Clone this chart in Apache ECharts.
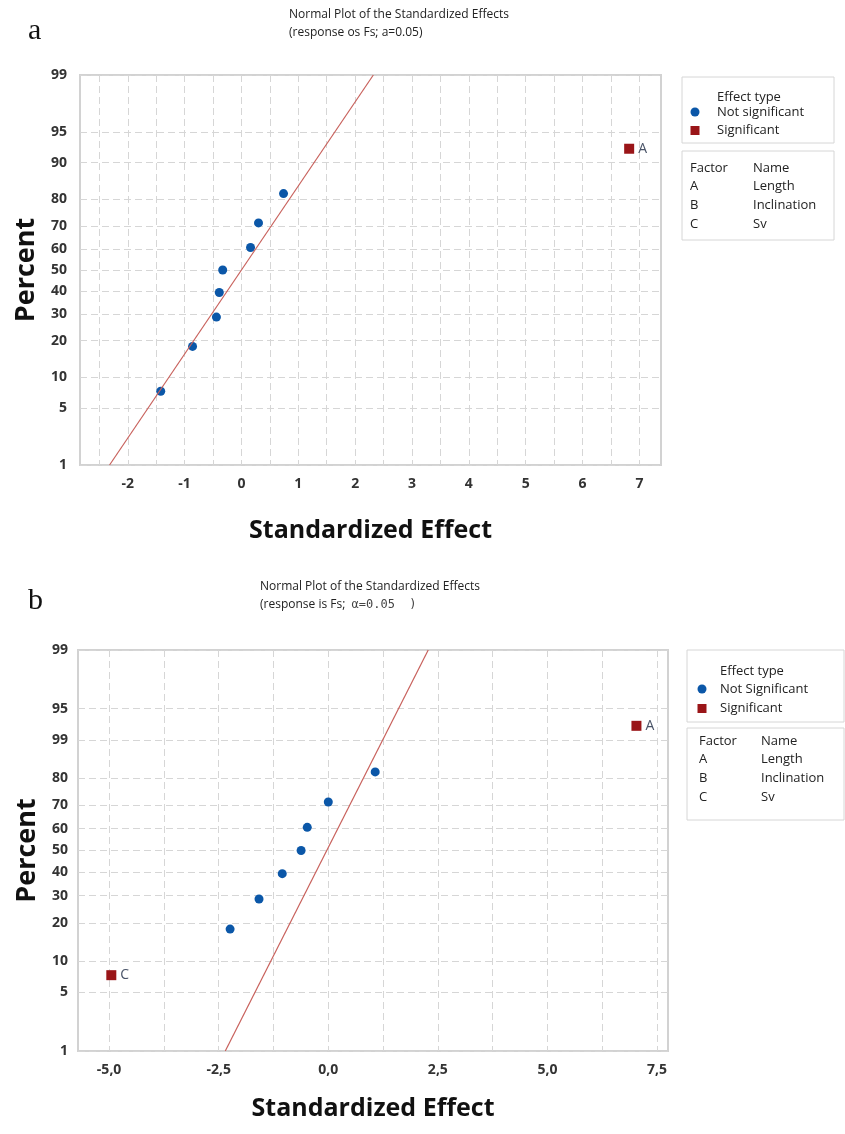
<!DOCTYPE html>
<html>
<head>
<meta charset="utf-8">
<script src="https://cdn.jsdelivr.net/npm/echarts@6/dist/echarts.min.js"></script>
<style>
html, body { margin: 0; padding: 0; background: #fff; }
#chart { width: 845px; height: 1134px; }
</style>
</head>
<body>
<div id="chart"></div>
<script>
// percent ticks of the normal probability axis
const pctTicks = [1, 5, 10, 20, 30, 40, 50, 60, 70, 80, 90, 95, 99];
const pctLabelsA = ['1', '5', '10', '20', '30', '40', '50', '60', '70', '80', '90', '95', '99'];
const pctLabelsB = ['1', '5', '10', '20', '30', '40', '50', '60', '70', '80', '99', '95', '99']; // printed like this in b

// panel a
const xLabelsA = [-2, -1, 0, 1, 2, 3, 4, 5, 6, 7];
const xGridA = [-2.5, -2, -1.5, -1, -0.5, 0, 0.5, 1, 1.5, 2, 2.5, 3, 3.5, 4, 4.5, 5, 5.5, 6, 6.5, 7];
const effectsA = [-1.42, -0.86, -0.44, -0.39, -0.33, 0.16, 0.30, 0.74];
const percentA = [7.4, 18.1, 28.7, 39.4, 50.0, 60.6, 71.3, 81.9];
const sigEffectsA = [6.82];
const sigPercentA = [92.6];
const sigNamesA = ['A'];
const lineEffectA = [-2.32, 2.32];
const linePercentA = [1, 99];

// panel b
const xLabelsB = [-5, -2.5, 0, 2.5, 5, 7.5];
const xGridB = [-5, -3.75, -2.5, -1.25, 0, 1.25, 2.5, 3.75, 5, 6.25, 7.5];
const effectsB = [-2.24, -1.58, -1.05, -0.62, -0.48, 0.0, 1.07];
const percentB = [18.1, 28.7, 39.4, 50.0, 60.6, 71.3, 81.9];
const sigEffectsB = [-4.95, 7.03];
const sigPercentB = [7.4, 92.6];
const sigNamesB = ['C', 'A'];
const lineEffectB = [-2.35, 2.28];
const linePercentB = [1, 99];

// inverse normal cdf (percent -> z), used as the y scale
function probit(pct) {
    const p = pct / 100;
    const a = [-3.969683028665376e+01, 2.209460984245205e+02, -2.759285104469687e+02, 1.383577518672690e+02, -3.066479806614716e+01, 2.506628277459239e+00];
    const b = [-5.447609879822406e+01, 1.615858368580409e+02, -1.556989798598866e+02, 6.680131188771972e+01, -1.328068155288572e+01];
    const c = [-7.784894002430293e-03, -3.223964580411365e-01, -2.400758277161838e+00, -2.549732539343734e+00, 4.374664141464968e+00, 2.938163982698783e+00];
    const d = [7.784695709041462e-03, 3.224671290700398e-01, 2.445134137142996e+00, 3.754408661907416e+00];
    const pl = 0.02425;
    let q, r;
    if (p < pl) {
        q = Math.sqrt(-2 * Math.log(p));
        return (((((c[0] * q + c[1]) * q + c[2]) * q + c[3]) * q + c[4]) * q + c[5]) / ((((d[0] * q + d[1]) * q + d[2]) * q + d[3]) * q + 1);
    }
    if (p > 1 - pl) {
        q = Math.sqrt(-2 * Math.log(1 - p));
        return -(((((c[0] * q + c[1]) * q + c[2]) * q + c[3]) * q + c[4]) * q + c[5]) / ((((d[0] * q + d[1]) * q + d[2]) * q + d[3]) * q + 1);
    }
    q = p - 0.5;
    r = q * q;
    return (((((a[0] * r + a[1]) * r + a[2]) * r + a[3]) * r + a[4]) * r + a[5]) * q / (((((b[0] * r + b[1]) * r + b[2]) * r + b[3]) * r + b[4]) * r + 1);
}

const FONT = '"Open Sans", "Noto Sans", sans-serif';
const BLUE = '#0b57a8';
const RED = '#9a1518';
const LINE = '#c8615c';
const GRIDC = '#d6d6d6';
const zTicks = pctTicks.map(probit);

function pctLabel(labels) {
    return function (v) {
        for (let i = 0; i < zTicks.length; i++) {
            if (Math.abs(zTicks[i] - v) < 1e-6) return labels[i];
        }
        return '';
    };
}

function xAxisOf(idx, min, max, grid, labels, fmt, gap) {
    return {
        gridIndex: idx, type: 'value', min: min, max: max,
        axisLine: { show: false },
        axisTick: { show: false, customValues: grid },
        axisLabel: { customValues: labels, formatter: fmt, fontFamily: FONT, fontSize: 14, fontWeight: 'bold', color: '#333', margin: 12 },
        splitLine: { show: true, lineStyle: { color: GRIDC, width: 1, type: [7, 4] } },
        name: 'Standardized Effect', nameLocation: 'middle', nameGap: gap,
        nameTextStyle: { fontFamily: FONT, fontSize: 25, fontWeight: 'bold', color: '#111' }
    };
}

function yAxisOf(idx, labels, margin, gap) {
    return {
        gridIndex: idx, type: 'value', min: probit(1), max: probit(99),
        axisLine: { show: false },
        axisTick: { show: false, customValues: zTicks },
        axisLabel: { customValues: zTicks, formatter: pctLabel(labels), fontFamily: FONT, fontSize: 14, fontWeight: 'bold', color: '#333', margin: margin },
        splitLine: { show: true, lineStyle: { color: GRIDC, width: 1, type: [7, 4] } },
        name: 'Percent', nameLocation: 'middle', nameGap: gap, nameRotate: 90,
        nameTextStyle: { fontFamily: FONT, fontSize: 27, fontWeight: 'bold', color: '#111' }
    };
}

function seriesOf(idx, effects, percents, sigEffects, sigPercents, sigNames, lineX, lineP) {
    return [
        {
            type: 'line', xAxisIndex: idx, yAxisIndex: idx, symbol: 'none', silent: true,
            lineStyle: { color: LINE, width: 1.2 },
            data: lineX.map((x, i) => [x, probit(lineP[i])])
        },
        {
            type: 'scatter', xAxisIndex: idx, yAxisIndex: idx, symbol: 'circle', symbolSize: 9,
            itemStyle: { color: BLUE, opacity: 1 },
            data: effects.map((x, i) => [x, probit(percents[i])])
        },
        {
            type: 'scatter', xAxisIndex: idx, yAxisIndex: idx, symbol: 'rect', symbolSize: 10,
            itemStyle: { color: RED, opacity: 1 },
            label: {
                show: true, position: 'right', distance: 4,
                formatter: p => sigNames[p.dataIndex],
                fontFamily: FONT, fontSize: 14, color: '#4a5468'
            },
            data: sigEffects.map((x, i) => [x, probit(sigPercents[i])])
        }
    ];
}

function txt(x, y, s, size, extra) {
    return Object.assign({
        type: 'text', x: x, y: y,
        style: { text: s, fontFamily: FONT, fontSize: size || 13, fill: '#222', verticalAlign: 'middle', align: 'left' }
    }, extra || {});
}

function legendBlock(x, w, y1, h1, y2, h2, rows, sigText) {
    const tx = rows.tx, fx = rows.fx, nx = rows.nx;
    return [
        { type: 'rect', shape: { x: x, y: y1, width: w, height: h1 }, style: { fill: '#fff', stroke: '#d6d6d6', lineWidth: 1 } },
        txt(tx, rows.et, 'Effect type'),
        { type: 'circle', shape: { cx: rows.mx, cy: rows.ns, r: 4.5 }, style: { fill: BLUE } },
        txt(tx, rows.ns, sigText),
        { type: 'rect', shape: { x: rows.mx - 4.5, y: rows.sg - 4, width: 9, height: 9 }, style: { fill: RED } },
        txt(tx, rows.sg, 'Significant'),
        { type: 'rect', shape: { x: x, y: y2, width: w, height: h2 }, style: { fill: '#fff', stroke: '#d6d6d6', lineWidth: 1 } },
        txt(fx, rows.r[0], 'Factor'), txt(nx, rows.r[0], 'Name'),
        txt(fx, rows.r[1], 'A'), txt(nx, rows.r[1], 'Length'),
        txt(fx, rows.r[2], 'B'), txt(nx, rows.r[2], 'Inclination'),
        txt(fx, rows.r[3], 'C'), txt(nx, rows.r[3], 'Sv')
    ];
}

const chart = echarts.init(document.getElementById('chart'), null, { renderer: 'canvas' });

chart.setOption({
    backgroundColor: '#fff',
    animation: false,
    grid: [
        { left: 80, top: 75, width: 581, height: 390, show: true, borderColor: '#d2d2d2', borderWidth: 2, backgroundColor: '#fff' },
        { left: 78, top: 650, width: 590, height: 401, show: true, borderColor: '#d2d2d2', borderWidth: 2, backgroundColor: '#fff' }
    ],
    xAxis: [
        xAxisOf(0, -2.84, 7.38, xGridA, xLabelsA, v => String(v), 53),
        xAxisOf(1, -5.71, 7.75, xGridB, xLabelsB, v => v.toFixed(1).replace('.', ','), 45)
    ],
    yAxis: [
        yAxisOf(0, pctLabelsA, 13, 39),
        yAxisOf(1, pctLabelsB, 10, 35)
    ],
    series: [].concat(
        seriesOf(0, effectsA, percentA, sigEffectsA, sigPercentA, sigNamesA, lineEffectA, linePercentA),
        seriesOf(1, effectsB, percentB, sigEffectsB, sigPercentB, sigNamesB, lineEffectB, linePercentB)
    ),
    graphic: [].concat(
        [
            txt(28, 31, 'a', 30, { style: { text: 'a', fontFamily: '"Liberation Serif", serif', fontSize: 30, fill: '#111', verticalAlign: 'middle' } }),
            txt(289, 15, 'Normal Plot of the Standardized Effects', 12),
            txt(289, 33, '(response os Fs; a=0.05)', 12),
            txt(28, 601, 'b', 30, { style: { text: 'b', fontFamily: '"Liberation Serif", serif', fontSize: 30, fill: '#111', verticalAlign: 'middle' } }),
            txt(260, 587, 'Normal Plot of the Standardized Effects', 12),
            {
                type: 'text', x: 260, y: 605,
                style: {
                    text: '{s|(response is Fs;  }{m|\u03b1=0.05  )}', verticalAlign: 'middle',
                    rich: {
                        s: { fontFamily: FONT, fontSize: 12, fill: '#222' },
                        m: { fontFamily: '"DejaVu Sans Mono", monospace', fontSize: 12, fill: '#444' }
                    }
                }
            }
        ],
        legendBlock(682, 152, 77, 66, 151, 89,
            { tx: 717, mx: 695, et: 97, ns: 112, sg: 130, fx: 690, nx: 753, r: [168, 186, 205, 224] }, 'Not significant'),
        legendBlock(687, 157, 650, 72, 728, 92,
            { tx: 720, mx: 702, et: 671, ns: 689, sg: 708, fx: 699, nx: 761, r: [741, 759, 778, 797] }, 'Not Significant')
    )
});
</script>
</body>
</html>
